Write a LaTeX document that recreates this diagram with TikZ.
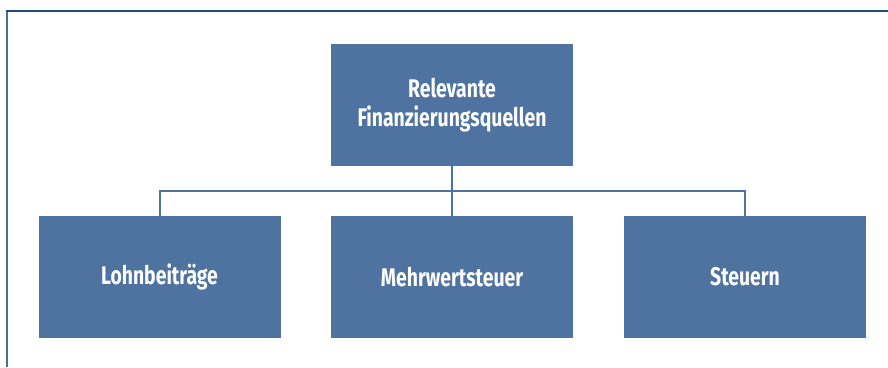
\documentclass[tikz,border=0pt]{standalone}
\usepackage{fontspec}
\setmainfont{Fira Sans}[FakeStretch=0.76]
\definecolor{boxblue}{HTML}{4F73A0}
\definecolor{framedark}{HTML}{1F4C85}
\definecolor{frameleft}{HTML}{4A6E9C}
\begin{document}
\begin{tikzpicture}[x=1pt,y=-1pt,
  orgbox/.style={fill=boxblue, draw=none, minimum width=242pt, minimum height=122pt,
    inner sep=0pt, text=white, font=\fontsize{25.5}{29.4}\selectfont\bfseries, align=center},
  conn/.style={draw=boxblue, line width=2pt}]
\useasboundingbox (0,0) rectangle (888,367);
\draw[frameleft, line width=2pt] (7,10) -- (7,367);
\draw[framedark, line width=2pt] (6,10.8) -- (888,10.8);
\node[orgbox] (top) at (452,105) {Relevante\\Finanzierungsquellen};
\node[orgbox] (l) at (159.5,277) {Lohnbeiträge};
\node[orgbox] (m) at (452,277) {Mehrwertsteuer};
\node[orgbox] (r) at (745,277) {Steuern};
\coordinate (j) at (452,191);
\draw[conn] (top.south) -- (m.north);
\draw[conn] (l.north) |- (j) -| (r.north);
\end{tikzpicture}
\end{document}
